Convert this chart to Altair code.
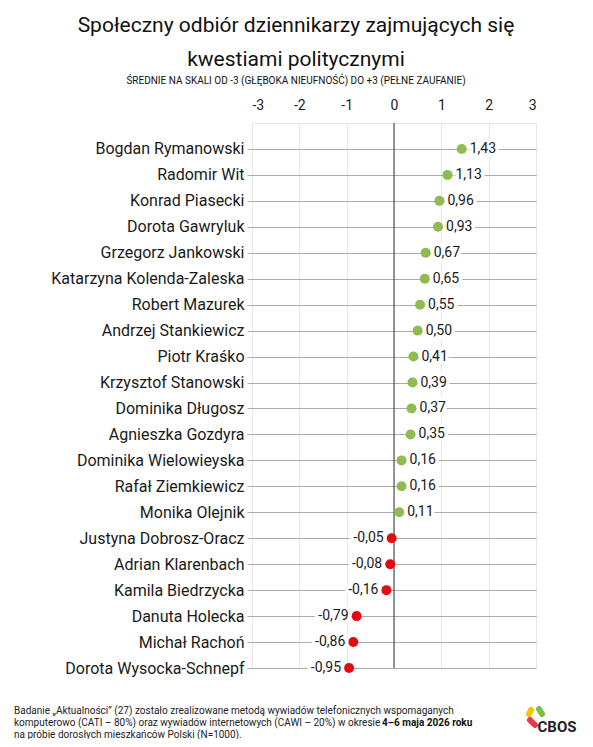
import json
import altair as alt
import pandas as pd

names = [
    "Bogdan Rymanowski", "Radomir Wit", "Konrad Piasecki", "Dorota Gawryluk",
    "Grzegorz Jankowski", "Katarzyna Kolenda-Zaleska", "Robert Mazurek",
    "Andrzej Stankiewicz", "Piotr Kraśko", "Krzysztof Stanowski",
    "Dominika Długosz", "Agnieszka Gozdyra", "Dominika Wielowieyska",
    "Rafał Ziemkiewicz", "Monika Olejnik", "Justyna Dobrosz-Oracz",
    "Adrian Klarenbach", "Kamila Biedrzycka", "Danuta Holecka",
    "Michał Rachoń", "Dorota Wysocka-Schnepf",
]
values = [1.43, 1.13, 0.96, 0.93, 0.67, 0.65, 0.55, 0.50, 0.41, 0.39, 0.37,
          0.35, 0.16, 0.16, 0.11, -0.05, -0.08, -0.16, -0.79, -0.86, -0.95]
x_ticks = [-3, -2, -1, 0, 1, 2, 3]

title_lines = ["Społeczny odbiór dziennikarzy zajmujących się", "kwestiami politycznymi"]
subtitle = "ŚREDNIE NA SKALI OD -3 (GŁĘBOKA NIEUFNOŚĆ) DO +3 (PEŁNE ZAUFANIE)"
foot1 = "Badanie „Aktualności” (27) zostało zrealizowane metodą wywiadów telefonicznych wspomaganych"
foot2a = "komputerowo (CATI – 80%) oraz wywiadów internetowych (CAWI – 20%) w okresie"
foot2b = "4–6 maja 2026 roku"
foot3 = "na próbie dorosłych mieszkańców Polski (N=1000)."

GREEN = "#8fbc4f"
RED = "#e50914"
FONT = "Roboto"

W, H = 284, 545

df = pd.DataFrame({
    "name": names,
    "value": values,
    "row": list(range(1, len(names) + 1)),
})
df["label"] = [f"{v:.2f}".replace(".", ",") for v in values]
df["sign"] = ["pos" if v >= 0 else "neg" for v in values]

label_expr = json.dumps([""] + names, ensure_ascii=False) + "[datum.value]"

x_scale = alt.Scale(domain=[-3, 3], nice=False, zero=False)
y_scale = alt.Scale(domain=[0, len(names)], reverse=True, nice=False, zero=False)

x_axis = alt.Axis(
    orient="top", values=x_ticks, title=None, domain=False, ticks=False,
    grid=True, gridColor="#e6e6e6", labelFont=FONT, labelFontSize=14,
    labelColor="#222", labelPadding=11, labelOverlap=False,
    labelExpr="'' + datum.value")
y_axis = alt.Axis(
    orient="left", values=list(range(1, len(names) + 1)), title=None,
    domain=False, ticks=True, tickSize=5, tickColor="#aaaaaa", grid=True,
    gridColor="#aaaaaa", labelFont=FONT, labelFontSize=16, labelColor="#1a1a1a",
    labelPadding=3, labelOverlap=False, labelLimit=260, labelExpr=label_expr)

xq = alt.X("value:Q", scale=x_scale, axis=x_axis)
yq = alt.Y("row:Q", scale=y_scale, axis=y_axis)

base = alt.Chart(df)

zero = alt.Chart(pd.DataFrame({"z": [0]})).mark_rule(color="#333", strokeWidth=1).encode(
    x=alt.X("z:Q", scale=x_scale, axis=x_axis))

points = base.mark_circle(size=100, opacity=1).encode(
    x=xq, y=yq,
    color=alt.Color("sign:N", scale=alt.Scale(domain=["pos", "neg"], range=[GREEN, RED]), legend=None),
)

pos = base.transform_filter("datum.value >= 0")
neg = base.transform_filter("datum.value < 0")

def lab(src, align, dx):
    halo = src.mark_text(align=align, dx=dx, baseline="middle", font=FONT, fontSize=14,
                         stroke="white", strokeWidth=7, color="white").encode(
        x=xq, y=yq, text="label:N")
    txt = src.mark_text(align=align, dx=dx, baseline="middle", font=FONT, fontSize=14,
                        color="#1a1a1a").encode(x=xq, y=yq, text="label:N")
    return halo + txt

labels = lab(pos, "left", 8) + lab(neg, "right", -8)

def txt(text, x, y, size, align="center", weight="normal", color="#111", font=FONT):
    return alt.Chart(pd.DataFrame({"t": [text]})).mark_text(
        align=align, baseline="middle", font=font, fontSize=size, fontWeight=weight,
        color=color).encode(x=alt.value(x), y=alt.value(y), text="t:N")

annot = (
    txt(title_lines[0], 44, -97, 21)
    + txt(title_lines[1], 44, -63, 21)
    + txt(subtitle, 44, -42, 10)
    + txt(foot1, -238, 588, 10, align="left", color="#222")
    + txt(foot2a, -238, 600, 10, align="left", color="#222")
    + txt(foot2b, 130, 600, 10, align="left", weight="bold", color="#111")
    + txt(foot3, -238, 612, 10, align="left", color="#222")
    + txt("CBOS", 305, 604, 15, weight="bold", color="#222")
)

def blob(x1, y1, x2, y2, c):
    return alt.Chart(pd.DataFrame({"a": [0]})).mark_rule(
        color=c, strokeWidth=6, strokeCap="round").encode(
        x=alt.value(x1), y=alt.value(y1), x2=alt.value(x2), y2=alt.value(y2))

logo = (blob(277, 591, 279, 587, "#f2c500") + blob(287, 586, 290, 591, "#7ac143")
        + blob(278, 597, 283, 602, "#e63950"))

chart = alt.layer(zero, points, labels, annot, logo).properties(
    width=W, height=H,
    autosize=alt.AutoSizeParams(type="none"),
    padding={"left": 244, "top": 115, "right": 49, "bottom": 71},
    background="white",
).configure_view(stroke="#e6e6e6").configure_axis(labelOverlap=False)

chart.save("out.html", embed_options={"renderer": "svg", "actions": False})
